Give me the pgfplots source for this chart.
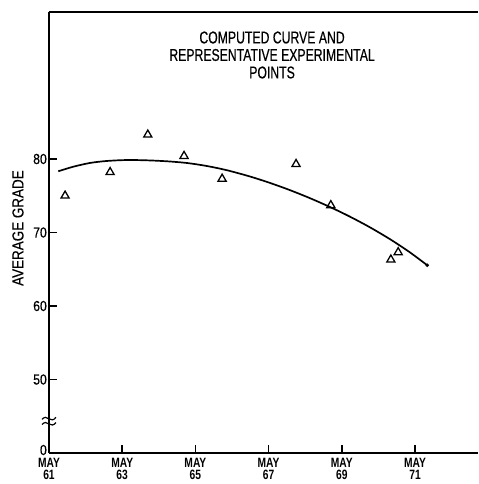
\documentclass[border=0pt]{standalone}
\usepackage{fontspec}
\setmainfont{Liberation Sans}
\newfontfamily\narrowfont[FakeStretch=0.72, FakeBold=0.4]{Liberation Sans}
\newfontfamily\labelfont[FakeStretch=0.84, FakeBold=0.4]{Liberation Sans}
\newfontfamily\tickfont[FakeStretch=0.76]{Liberation Sans}
\usepackage{pgfplots}
\pgfplotsset{compat=1.18}
\usetikzlibrary{calc}

\begin{document}
\begin{tikzpicture}
\begin{axis}[
    name=ax,
    scale only axis,
    width=429bp, height=441bp,
    xmin=61, xmax=72.72,
    ymin=40, ymax=100,
    axis x line=box,
    axis y line=left,
    axis line style={-, line width=1.7pt},
    xtick pos=bottom,
    ytick pos=left,
    tick align=inside,
    major tick length=8bp,
    tick style={line width=1.5pt, black},
    xtick={61,63,65,67,69,71},
    xticklabels={MAY\\61,MAY\\63,MAY\\65,MAY\\67,MAY\\69,MAY\\71},
    xticklabel style={font=\tickfont\bfseries\fontsize{13.5bp}{12.5bp}\selectfont, align=center, inner sep=1bp, yshift=-4bp},
    ytick={50,60,70,80},
    yticklabels={50,60,70,80},
    yticklabel style={font=\labelfont\fontsize{14.5bp}{14.5bp}\selectfont, inner sep=2bp},
    extra y ticks={40},
    extra y tick labels={0},
    extra y tick style={major tick length=0pt, yticklabel style={yshift=3bp, xshift=0bp}},
    ylabel={AVERAGE GRADE},
    ylabel style={font=\labelfont\fontsize{16bp}{16bp}\selectfont, at={(axis description cs:-0.0723,0.51)}, anchor=center},
    clip=false,
]

% fitted curve
\addplot[smooth, line width=1.7pt, black] coordinates {
  (61.254,78.33) (61.664,78.95) (62.120,79.46) (62.577,79.73) (63.123,79.86)
  (63.669,79.82) (64.216,79.69) (64.762,79.46) (65.309,79.05) (65.855,78.48)
  (66.49,77.62) (67.04,76.74) (67.58,75.77) (68.13,74.67) (68.68,73.46)
  (69.22,72.16) (69.77,70.70) (70.32,69.08) (70.86,67.30) (71.336,65.54)
};
\addplot[only marks, mark=*, mark size=1.6bp, black] coordinates {(71.336,65.54)};

% experimental points
\addplot[only marks, mark=triangle, mark size=4.7bp, mark options={line width=1.3pt, black}] coordinates {
  (61.44,75.0) (62.67,78.2) (63.70,83.3) (64.69,80.4) (65.73,77.3)
  (67.75,79.3) (68.70,73.7) (70.34,66.3) (70.54,67.3)
};

\node[font=\narrowfont\fontsize{17bp}{17.5bp}\selectfont, align=center]
  at (axis description cs:0.52,0.9025)
  {COMPUTED CURVE AND\\REPRESENTATIVE EXPERIMENTAL\\POINTS};

% axis break
\fill[white] ($(axis cs:61,44.15)+(-2bp,0)$) rectangle ($(axis cs:61,44.85)+(2bp,0)$);
\draw[line width=1.2pt] ($(axis cs:61,44.85)+(-7bp,-2bp)$) sin ++(3.5bp,2bp) cos ++(3.5bp,-1.5bp) sin ++(3.5bp,-1bp) cos ++(3.5bp,2.5bp);
\draw[line width=1.2pt] ($(axis cs:61,44.15)+(-7bp,-2bp)$) sin ++(3.5bp,2bp) cos ++(3.5bp,-1.5bp) sin ++(3.5bp,-1bp) cos ++(3.5bp,2.5bp);
\end{axis}
\pgfresetboundingbox
\path[use as bounding box] ($(ax.south west)+(-49bp,-31bp)$) rectangle ($(ax.north east)+(0,12bp)$);
\end{tikzpicture}
\end{document}
